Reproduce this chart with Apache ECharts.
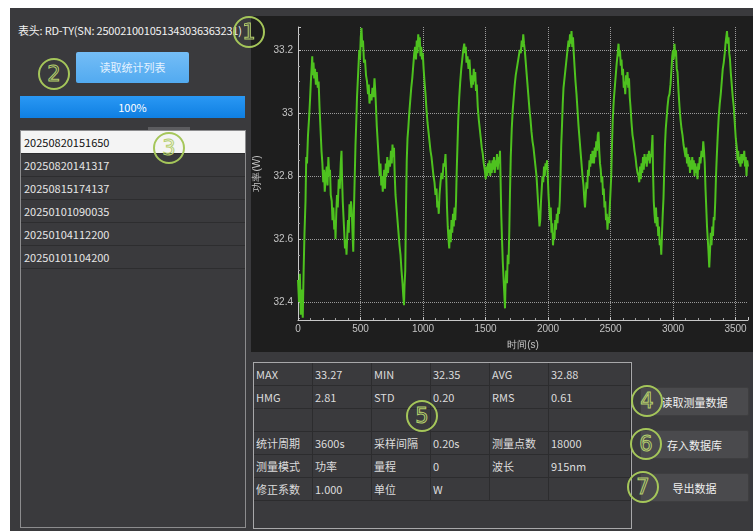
<!DOCTYPE html>
<html lang="zh">
<head>
    <meta charset="UTF-8">
    <title>功率统计</title>
    <script src="https://cdn.jsdelivr.net/npm/echarts@6/dist/echarts.min.js"></script>
    <style>
        body { margin: 0; background: #ffffff; font-family: "Noto Sans CJK SC", "Noto Sans", sans-serif; }
        #app { position: absolute; left: 10px; top: 8px; width: 743px; height: 523px; background: #3a3a3d; overflow: hidden; }
        .abs { position: absolute; }
        #title { left: 8px; top: 14px; color: #f2f2f2; font-size: 11px; white-space: nowrap; letter-spacing: -0.2px; }
        #readBtn { left: 66px; top: 44px; width: 113px; height: 31px; border-radius: 2px;
            background: linear-gradient(#74bdf6, #52aaf0); color: #e4f2ff; font-size: 11px; text-align: center; line-height: 31px; }
        #progress { left: 10px; top: 88px; width: 225px; height: 22px; background: linear-gradient(#2a98f4, #0f7fe2);
            color: #ffffff; font-size: 11px; text-align: center; line-height: 22px; }
        #tab { left: 138px; top: 119px; width: 42px; height: 5px; background: #5c5c5f; }
        #list { left: 10px; top: 122px; width: 224px; height: 396px; border: 1px solid #8c8c8e; background: #3a3a3d; }
        .row { height: 22px; line-height: 22px; border-bottom: 1px solid #2d2d2f; padding-left: 3px; font-size: 11px; color: #e6e6e6; }
        .row.sel { background: #f4f4f4; color: #111111; }
        #chartWrap { left: 241px; top: 8px; width: 502px; height: 336px; background: #1e1e1e; }
        #chart { width: 502px; height: 336px; }
        #table { left: 243px; top: 354px; width: 377px; height: 165px; border: 1px solid #a8a8aa; }
        .cell { position: absolute; height: 22px; line-height: 22px; padding-left: 2px; font-size: 11px; color: #dcdcdc;
            border-right: 1px solid #2c2c2e; border-bottom: 1px solid #2c2c2e; box-sizing: border-box; white-space: nowrap; }
        .btn { left: 630px; width: 109px; height: 29px; background: #4a4a4d; border: 1px solid #3e3e40; border-radius: 2px;
            color: #f0f0f0; font-size: 11px; text-align: center; line-height: 29px; box-sizing: border-box; }
        .mark { width: 28px; height: 28px; border: 2px solid #a5c65a; border-radius: 50%; text-align: center; line-height: 28px;
            font-size: 21px; color: transparent; -webkit-text-stroke: 1px #b4cf6c; font-family: "DejaVu Sans", sans-serif; }
    </style>
</head>
<body>
<div id="app">
    <div id="title" class="abs"></div>
    <div id="readBtn" class="abs">读取统计列表</div>
    <div id="progress" class="abs">100%</div>
    <div id="tab" class="abs"></div>
    <div id="list" class="abs"></div>
    <div id="chartWrap" class="abs"><div id="chart"></div></div>
    <div id="table" class="abs"></div>
    <div class="abs btn" style="top:379px">读取测量数据</div>
    <div class="abs btn" style="top:422px">存入数据库</div>
    <div class="abs btn" style="top:465px">导出数据</div>
    <div class="abs mark" style="left:223px;top:8px">1</div>
    <div class="abs mark" style="left:28px;top:50px">2</div>
    <div class="abs mark" style="left:143px;top:124px">3</div>
    <div class="abs mark" style="left:621px;top:377px">4</div>
    <div class="abs mark" style="left:396px;top:392px">5</div>
    <div class="abs mark" style="left:620px;top:420px">6</div>
    <div class="abs mark" style="left:617px;top:463px">7</div>
</div>

<script>
    let headerText = '表头: RD-TY(SN: 250021001051343036363231)';
    let recordList = ['20250820151650', '20250820141317', '20250815174137', '20250101090035', '20250104112200', '20250101104200'];

    let statRows = [
        ['MAX', '33.27', 'MIN', '32.35', 'AVG', '32.88'],
        ['HMG', '2.81', 'STD', '0.20', 'RMS', '0.61'],
        ['', '', '', '', '', ''],
        ['统计周期', '3600s', '采样间隔', '0.20s', '测量点数', '18000'],
        ['测量模式', '功率', '量程', '0', '波长', '915nm'],
        ['修正系数', '1.000', '单位', 'W', '', '']
    ];

    // 时间(s), 功率(W) —— 从曲线上估读
    let powerTrace = [
        [0,32.47],[8,32.40],[15,32.49],[22,32.36],[30,32.44],[38,32.35],[45,32.50],[52,32.62],[60,32.72],[66,32.86],
        [72,32.84],[80,32.93],[88,32.98],[96,33.04],[103,33.10],[110,33.15],[114,33.18],[118,33.12],[124,33.16],[130,33.11],
        [136,33.14],[143,33.09],[150,33.13],[158,33.08],[165,33.10],[172,33.02],[180,32.95],[188,32.88],[195,32.84],[202,32.78],
        [208,32.82],[214,32.75],[222,32.80],[230,32.83],[236,32.77],[243,32.86],[250,32.80],[256,32.82],[262,32.74],[270,32.72],
        [276,32.66],[283,32.70],[290,32.63],[296,32.66],[300,32.60],[306,32.68],[312,32.74],[318,32.70],[326,32.79],[334,32.76],
        [342,32.84],[348,32.88],[352,32.80],[358,32.72],[364,32.67],[370,32.62],[376,32.57],[382,32.60],[388,32.55],[394,32.61],
        [400,32.66],[406,32.62],[412,32.71],[418,32.67],[424,32.72],[430,32.69],[436,32.62],[442,32.56],[448,32.70],[454,32.80],
        [460,32.90],[466,32.97],[472,33.05],[478,33.10],[484,33.15],[490,33.20],[496,33.17],[502,33.24],[508,33.27],[514,33.21],
        [520,33.23],[528,33.16],[536,33.17],[544,33.12],[552,33.10],[560,33.06],[566,33.09],[572,33.03],[580,33.06],[588,33.04],
        [596,33.08],[604,33.05],[612,33.11],[618,33.07],[624,33.02],[630,32.96],[636,32.92],[642,32.88],[648,32.84],[654,32.80],
        [660,32.84],[666,32.77],[672,32.80],[678,32.75],[684,32.79],[690,32.82],[696,32.76],[702,32.84],[708,32.80],[714,32.86],
        [720,32.81],[728,32.85],[736,32.83],[744,32.88],[750,32.84],[756,32.90],[762,32.86],[768,32.89],[774,32.80],[780,32.74],
        [788,32.70],[796,32.66],[804,32.62],[812,32.58],[820,32.55],[828,32.50],[836,32.46],[842,32.42],[848,32.39],[852,32.45],
        [858,32.50],[864,32.70],[870,32.85],[876,32.92],[882,32.95],[890,33.00],[898,33.04],[906,33.08],[914,33.11],[922,33.15],
        [930,33.19],[937,33.21],[944,33.17],[950,33.23],[956,33.19],[962,33.25],[968,33.21],[974,33.24],[980,33.18],[986,33.21],
        [992,33.17],[998,33.19],[1005,33.14],[1012,33.10],[1020,33.06],[1028,33.01],[1036,32.97],[1044,32.94],[1052,32.91],[1060,32.88],
        [1068,32.86],[1076,32.83],[1084,32.80],[1092,32.78],[1100,32.74],[1108,32.76],[1114,32.70],[1120,32.72],[1126,32.68],[1132,32.74],
        [1140,32.78],[1148,32.81],[1156,32.79],[1164,32.84],[1172,32.83],[1180,32.87],[1186,32.80],[1192,32.70],[1198,32.64],[1204,32.60],
        [1210,32.57],[1216,32.63],[1222,32.59],[1228,32.66],[1234,32.62],[1240,32.68],[1246,32.64],[1252,32.70],[1258,32.66],[1264,32.72],
        [1270,32.82],[1276,32.90],[1282,32.98],[1290,33.05],[1298,33.10],[1306,33.14],[1314,33.17],[1322,33.20],[1330,33.22],[1336,33.19],
        [1342,33.21],[1348,33.16],[1356,33.18],[1364,33.14],[1372,33.17],[1380,33.11],[1388,33.08],[1394,33.12],[1400,33.09],[1406,33.14],
        [1412,33.10],[1418,33.13],[1424,33.07],[1430,33.09],[1438,33.02],[1446,32.98],[1454,32.95],[1462,32.92],[1470,32.89],[1478,32.87],
        [1486,32.84],[1494,32.82],[1502,32.79],[1508,32.83],[1514,32.80],[1520,32.84],[1526,32.81],[1532,32.85],[1538,32.80],[1544,32.84],
        [1550,32.81],[1556,32.85],[1562,32.82],[1568,32.86],[1574,32.81],[1580,32.85],[1586,32.83],[1592,32.87],[1598,32.82],[1604,32.86],
        [1610,32.84],[1616,32.88],[1620,32.80],[1626,32.68],[1632,32.60],[1638,32.53],[1644,32.48],[1650,32.43],[1656,32.38],[1660,32.45],
        [1666,32.50],[1672,32.46],[1678,32.55],[1684,32.52],[1690,32.62],[1696,32.75],[1702,32.86],[1710,32.95],[1718,33.01],[1726,33.05],
        [1734,33.09],[1742,33.12],[1750,33.14],[1758,33.16],[1766,33.18],[1774,33.20],[1782,33.19],[1790,33.23],[1796,33.21],[1802,33.25],
        [1808,33.22],[1814,33.20],[1820,33.17],[1828,33.13],[1836,33.09],[1844,33.05],[1852,33.01],[1860,32.98],[1868,32.94],[1876,32.91],
        [1884,32.89],[1892,32.86],[1900,32.83],[1908,32.80],[1914,32.76],[1920,32.72],[1926,32.68],[1932,32.64],[1938,32.66],[1944,32.72],
        [1950,32.76],[1956,32.80],[1962,32.78],[1968,32.83],[1974,32.80],[1980,32.84],[1986,32.82],[1992,32.85],[1998,32.80],[2004,32.74],
        [2010,32.70],[2016,32.66],[2022,32.70],[2028,32.62],[2034,32.65],[2040,32.58],[2046,32.62],[2052,32.60],[2058,32.66],[2064,32.63],
        [2070,32.68],[2076,32.65],[2082,32.70],[2088,32.68],[2094,32.72],[2100,32.80],[2106,32.90],[2112,32.96],[2118,33.03],[2124,33.08],
        [2132,33.11],[2140,33.14],[2148,33.17],[2156,33.20],[2164,33.23],[2170,33.21],[2176,33.25],[2182,33.22],[2188,33.26],[2194,33.21],
        [2200,33.24],[2206,33.19],[2212,33.15],[2220,33.10],[2228,33.06],[2236,33.01],[2244,32.96],[2252,32.92],[2260,32.88],[2268,32.84],
        [2276,32.80],[2284,32.77],[2290,32.73],[2296,32.70],[2302,32.74],[2308,32.78],[2314,32.76],[2320,32.82],[2326,32.80],[2332,32.85],
        [2338,32.83],[2344,32.87],[2350,32.84],[2356,32.88],[2362,32.86],[2368,32.84],[2374,32.89],[2380,32.86],[2386,32.91],[2392,32.88],
        [2398,32.93],[2404,32.94],[2410,32.88],[2416,32.84],[2422,32.82],[2428,32.78],[2434,32.80],[2440,32.74],[2446,32.76],[2452,32.70],
        [2458,32.72],[2464,32.66],[2470,32.68],[2476,32.63],[2482,32.67],[2488,32.65],[2494,32.70],[2500,32.75],[2506,32.80],[2512,32.90],
        [2518,32.98],[2526,33.04],[2534,33.08],[2542,33.12],[2550,33.16],[2558,33.19],[2564,33.22],[2570,33.18],[2576,33.20],[2582,33.15],
        [2588,33.17],[2594,33.12],[2600,33.14],[2606,33.08],[2612,33.10],[2618,33.06],[2624,33.12],[2630,33.09],[2636,33.13],[2642,33.08],
        [2648,33.11],[2654,33.05],[2660,33.02],[2668,32.97],[2676,32.93],[2684,32.91],[2692,32.88],[2700,32.86],[2708,32.83],[2716,32.81],
        [2724,32.80],[2730,32.78],[2736,32.83],[2742,32.79],[2748,32.84],[2754,32.81],[2760,32.86],[2766,32.82],[2772,32.87],[2778,32.84],
        [2784,32.86],[2790,32.83],[2796,32.87],[2802,32.85],[2808,32.88],[2814,32.84],[2820,32.87],[2826,32.86],[2832,32.90],[2836,32.93],
        [2840,32.82],[2846,32.72],[2852,32.68],[2858,32.65],[2864,32.70],[2870,32.64],[2876,32.67],[2882,32.61],[2888,32.64],[2894,32.58],
        [2900,32.60],[2906,32.55],[2912,32.62],[2918,32.68],[2924,32.73],[2930,32.82],[2936,32.90],[2942,32.95],[2948,32.98],[2956,33.02],
        [2964,33.05],[2972,33.06],[2980,33.09],[2988,33.14],[2994,33.18],[3000,33.20],[3006,33.17],[3012,33.22],[3018,33.18],[3024,33.20],
        [3030,33.14],[3036,33.13],[3044,33.07],[3052,33.02],[3060,32.98],[3068,32.95],[3076,32.93],[3084,32.90],[3092,32.88],[3100,32.86],
        [3106,32.89],[3112,32.84],[3118,32.87],[3124,32.83],[3130,32.86],[3136,32.81],[3142,32.85],[3148,32.82],[3154,32.86],[3160,32.82],
        [3166,32.85],[3172,32.80],[3178,32.84],[3184,32.81],[3190,32.83],[3196,32.79],[3202,32.84],[3208,32.82],[3214,32.86],[3220,32.84],
        [3228,32.88],[3236,32.86],[3242,32.91],[3248,32.88],[3254,32.84],[3260,32.76],[3266,32.70],[3272,32.64],[3278,32.60],[3284,32.56],
        [3290,32.51],[3296,32.56],[3302,32.62],[3308,32.58],[3314,32.64],[3320,32.61],[3326,32.67],[3332,32.66],[3338,32.72],[3344,32.80],
        [3350,32.86],[3358,32.93],[3366,32.99],[3374,33.03],[3382,33.06],[3390,33.10],[3398,33.14],[3406,33.16],[3414,33.19],[3420,33.22],
        [3426,33.24],[3432,33.26],[3438,33.22],[3444,33.24],[3450,33.19],[3456,33.17],[3462,33.13],[3470,33.09],[3478,33.05],[3486,33.02],
        [3494,32.97],[3502,32.92],[3510,32.89],[3516,32.85],[3522,32.88],[3528,32.84],[3534,32.86],[3540,32.83],[3546,32.87],[3552,32.84],
        [3558,32.87],[3564,32.85],[3570,32.88],[3576,32.83],[3582,32.86],[3588,32.80],[3594,32.85],[3600,32.83]
    ];

    document.getElementById('title').textContent = headerText;

    // 记录列表
    let listBox = document.getElementById('list');
    recordList.forEach(function (name, i) {
        let row = document.createElement('div');
        row.className = i === 0 ? 'row sel' : 'row';
        row.textContent = name;
        listBox.appendChild(row);
    });

    // 统计表格
    let colX = [0, 59, 118, 177, 236, 295];
    let colW = [59, 59, 59, 59, 59, 82];
    let tableBox = document.getElementById('table');
    statRows.forEach(function (cells, r) {
        cells.forEach(function (txt, c) {
            let cell = document.createElement('div');
            cell.className = 'cell';
            cell.style.left = colX[c] + 'px';
            cell.style.top = (r * 23) + 'px';
            cell.style.width = colW[c] + 'px';
            cell.style.height = '23px';
            cell.style.lineHeight = '22px';
            cell.textContent = txt;
            tableBox.appendChild(cell);
        });
    });

    let chart = echarts.init(document.getElementById('chart'));
    let option = {
        animation: false,
        backgroundColor: '#1e1e1e',
        grid: { left: 47, right: 5, top: 11, bottom: 32, containLabel: false, outerBoundsMode: 'none' },
        xAxis: {
            type: 'value',
            min: 0,
            max: 3600,
            interval: 500,
            name: '时间(s)',
            nameLocation: 'middle',
            nameGap: 20,
            nameTextStyle: { color: '#c4c4c4', fontSize: 10 },
            axisLine: { lineStyle: { color: '#c8c8c8' } },
            axisTick: { show: true, inside: true, length: 3, lineStyle: { color: '#c8c8c8' } },
            minorTick: { show: true, splitNumber: 5, length: 2, lineStyle: { color: '#a0a0a0' } },
            axisLabel: { color: '#c4c4c4', fontSize: 10, margin: 4, showMaxLabel: false,
                formatter: function (v) { return String(v); } },
            splitLine: { show: true, showMaxLine: false, lineStyle: { color: '#9a9a9a', type: 'dotted', width: 1 } }
        },
        yAxis: {
            type: 'value',
            min: 32.343,
            max: 33.273,
            name: '功率(W)',
            nameLocation: 'middle',
            nameGap: 35,
            nameTextStyle: { color: '#c4c4c4', fontSize: 10 },
            axisLine: { show: true, lineStyle: { color: '#c8c8c8' } },
            axisTick: { show: true, inside: true, length: 3, lineStyle: { color: '#c8c8c8' } },
            minorTick: { show: true, splitNumber: 4, length: 2, lineStyle: { color: '#a0a0a0' } },
            axisLabel: { color: '#c4c4c4', fontSize: 10, margin: 5, showMinLabel: false, showMaxLabel: false,
                formatter: function (v) { return String(v); } },
            splitLine: { show: true, showMinLine: false, showMaxLine: false, lineStyle: { color: '#9a9a9a', type: 'dotted', width: 1 } }
        },
        series: [
            {
                type: 'line',
                data: powerTrace,
                showSymbol: false,
                sampling: 'none',
                lineStyle: { color: '#4ec21f', width: 2 }
            }
        ]
    };
    chart.setOption(option);
</script>
</body>
</html>
